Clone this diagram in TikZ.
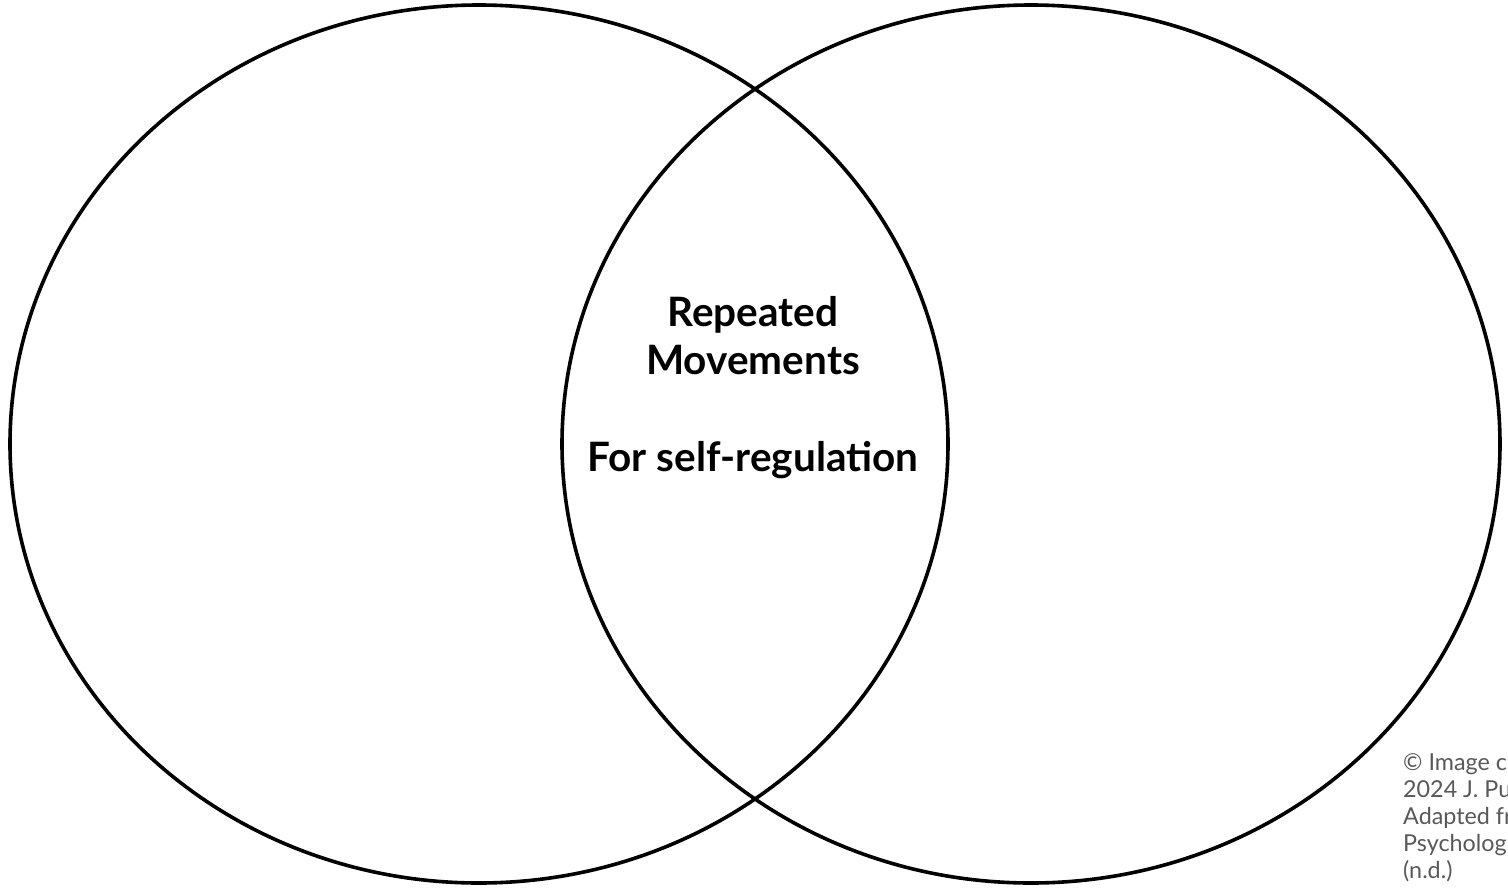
\documentclass[tikz,border=0pt]{standalone}
\usepackage{fontspec}
\setmainfont{Lato}
\begin{document}
\begin{tikzpicture}[x=1pt,y=-1pt,
  ring/.style={draw=black,line width=3.6pt},
  label/.style={font=\fontsize{40.5}{48}\selectfont\bfseries,anchor=base,inner sep=0pt},
  credit/.style={font=\fontsize{23.3}{27}\selectfont,text=black!65,anchor=base west,inner sep=0pt}]
  \useasboundingbox[fill=white] (0,0) rectangle (1508,887);
  % two overlapping sets
  \draw[ring] (479,444) ellipse [x radius=469pt, y radius=439pt];
  \draw[ring] (1031,444) ellipse [x radius=469pt, y radius=439pt];
  % shared region text
  \node[label] (rep) at (753,326) {Repeated};
  \node[label] (mov) at (753,374) {Movements};
  \node[label] (self) at (753,471) {For self-regulation};
  % credit lines, running off the right edge of the page
  \node[credit] (c1) at (1403,770) {© Image cr};
  \node[credit] (c2) at (1403,797) {2024 J. Pu};
  \node[credit] (c3) at (1403,824) {Adapted fr};
  \node[credit] (c4) at (1403,851) {Psycholog};
  \node[credit] (c5) at (1403,878) {(n.d.)};
\end{tikzpicture}
\end{document}
